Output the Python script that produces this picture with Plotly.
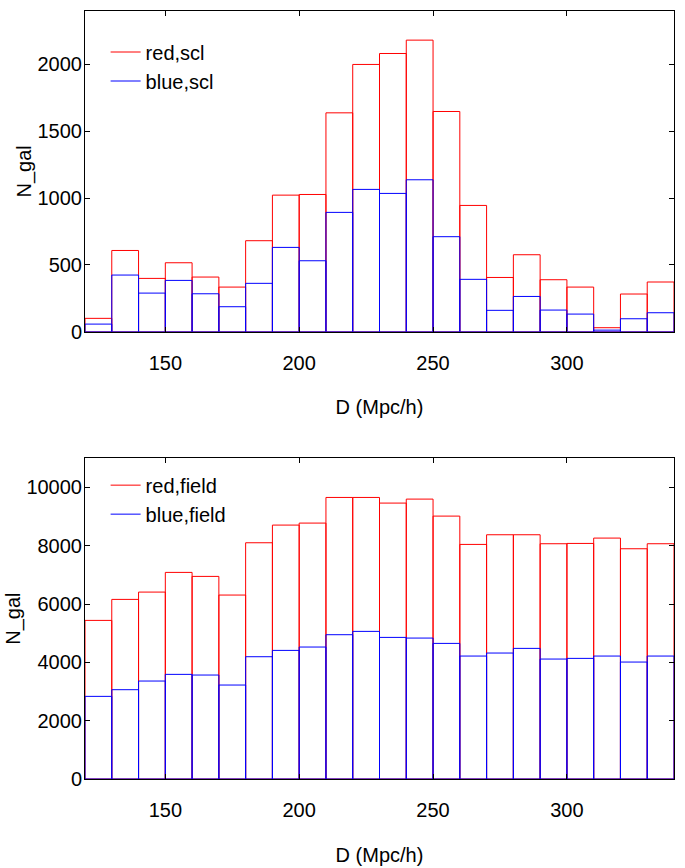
import plotly.graph_objects as go
from plotly.subplots import make_subplots

bin_left = [120, 130, 140, 150, 160, 170, 180, 190, 200, 210, 220,
            230, 240, 250, 260, 270, 280, 290, 300, 310, 320, 330]
bin_width = 10

red_scl = [100, 608, 399, 516, 409, 334, 681, 1022, 1027, 1638, 2000,
           2082, 2182, 1648, 945, 406, 576, 389, 334, 30, 282, 372]
blue_scl = [57, 424, 289, 384, 284, 187, 362, 631, 531, 893, 1065,
            1035, 1137, 711, 392, 160, 264, 162, 132, 12, 97, 142]

red_field = [5440, 6160, 6411, 7086, 6949, 6309, 8103, 8709, 8777, 9657, 9657,
             9463, 9600, 9017, 8046, 8377, 8377, 8069, 8080, 8263, 7897, 8069]
blue_field = [2834, 3063, 3360, 3589, 3566, 3223, 4194, 4411, 4526, 4949, 5063,
              4857, 4834, 4651, 4217, 4320, 4480, 4114, 4137, 4217, 4011, 4217]

x_ticks = [150, 200, 250, 300]
y_ticks_top = [0, 500, 1000, 1500, 2000]
y_ticks_bottom = [0, 2000, 4000, 6000, 8000, 10000]
y_ticktext_bottom = ["0", "2000", "4000", "6000", "8000", "10000"]

FONT = "Liberation Sans, Arial, sans-serif"
FS = 20
RED = "#ff0000"
BLUE = "#0000ff"

fig = make_subplots(rows=2, cols=1, shared_xaxes=False, vertical_spacing=0.05)


def add_hist(vals, color, name, row, legend):
    fig.add_trace(go.Bar(
        x=bin_left, y=vals, width=bin_width, offset=0,
        marker=dict(color="rgba(0,0,0,0)", line=dict(color=color, width=1)),
        showlegend=False, hoverinfo="x+y"), row=row, col=1)
    fig.add_trace(go.Scatter(
        x=[None], y=[None], mode="lines", name=name,
        line=dict(color=color, width=1), legend=legend), row=row, col=1)


add_hist(red_scl, RED, "red,scl", 1, "legend")
add_hist(blue_scl, BLUE, "blue,scl", 1, "legend")
add_hist(red_field, RED, "red,field", 2, "legend2")
add_hist(blue_field, BLUE, "blue,field", 2, "legend2")

axis_common = dict(
    showline=True, linecolor="black", linewidth=1, mirror="ticks",
    ticks="inside", ticklen=5, tickcolor="black", tickwidth=1,
    showgrid=False, zeroline=False, automargin=False,
    tickfont=dict(family=FONT, size=FS, color="black"),
)

fig.update_xaxes(**axis_common, range=[120, 340], tickvals=x_ticks,
                 ticklabelstandoff=13,
                 title=dict(text="D (Mpc/h)", standoff=27,
                            font=dict(family=FONT, size=FS, color="black")))
fig.update_yaxes(**axis_common, ticklabelstandoff=-2,
                 title=dict(text="N_gal", standoff=0,
                            font=dict(family=FONT, size=FS, color="black")))
fig.update_yaxes(range=[0, 2400], tickvals=y_ticks_top, row=1, col=1)
fig.update_yaxes(range=[0, 11000], tickvals=y_ticks_bottom,
                 ticktext=y_ticktext_bottom, row=2, col=1)

fig.update_layout(
    width=685, height=868,
    margin=dict(l=85, r=11, t=11, b=89, autoexpand=False),
    paper_bgcolor="white", plot_bgcolor="white",
    barmode="overlay",
    font=dict(family=FONT, size=FS, color="black"),
    xaxis=dict(domain=[0, 1]),
    yaxis=dict(domain=[0.5824, 1.0]),
    xaxis2=dict(domain=[0, 1]),
    yaxis2=dict(domain=[0, 0.4176]),
    legend=dict(x=0.035, y=0.972, xanchor="left", yanchor="top",
                bgcolor="rgba(0,0,0,0)", font=dict(family=FONT, size=FS)),
    legend2=dict(x=0.035, y=0.408, xanchor="left", yanchor="top",
                 bgcolor="rgba(0,0,0,0)", font=dict(family=FONT, size=FS)),
)

fig.write_html("out.html")
